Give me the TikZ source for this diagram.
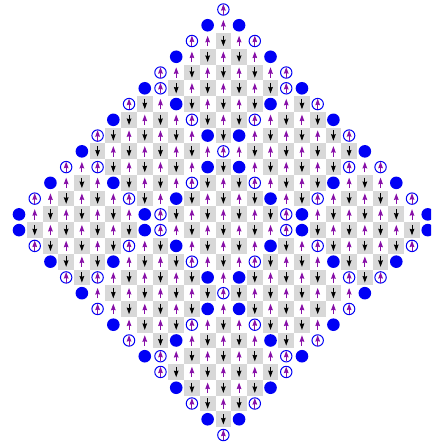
\documentclass[tikz,border=0pt]{standalone}
\usetikzlibrary{arrows.meta}
\definecolor{spinup}{RGB}{136,16,168}
\definecolor{cellgray}{RGB}{216,216,216}
\definecolor{holeblue}{RGB}{0,0,245}
\tikzset{
  x=1pt,y=-1pt,
  cellbox/.style={fill=cellgray,draw=none},
  uparrow/.style={draw=spinup,line width=1pt,-{Stealth[length=6.5pt,width=4.6pt,inset=0.6pt]}},
  downarrow/.style={draw=black,line width=1pt,-{Stealth[length=6.5pt,width=4.6pt,inset=0.6pt]}},
  holedot/.style={fill=holeblue,draw=none},
  holering/.style={draw=holeblue,line width=1pt,fill=none},
}
\begin{document}
\begin{tikzpicture}
\useasboundingbox (0,0) rectangle (431,443);
\clip (0,0) rectangle (431,443);
\foreach \r in {0,...,27}{
  \pgfmathtruncatemacro{\m}{\r<14 ? \r : 27-\r}
  \pgfmathtruncatemacro{\cmin}{13-\m}
  \pgfmathtruncatemacro{\cmax}{13+\m}
  \foreach \c in {\cmin,...,\cmax}{
    \pgfmathsetmacro{\X}{19+15.72*\c}
    \pgfmathsetmacro{\Y}{9.5+15.76*\r}
    \pgfmathtruncatemacro{\dc}{abs(\c-13)}
    \pgfmathtruncatemacro{\wa}{abs(\m-9)}
    \pgfmathtruncatemacro{\wb}{18-\m}
    \pgfmathtruncatemacro{\oddm}{mod(\m,2)}
    \pgfmathtruncatemacro{\kind}{\dc==\m ? (\oddm==1 ? 1 : 2) : (\dc==\wa ? (\oddm==1 ? 2 : 1) : (\dc==\wb ? (\oddm==1 ? 1 : 2) : 0))}
    \pgfmathtruncatemacro{\band}{(\dc>\wa && \dc<\wb) ? 1 : 0}
    \pgfmathtruncatemacro{\isdown}{mod(\r+\c+\band,2)}
    \ifnum\kind=1
      \fill[holedot] (\X,\Y) circle[radius=6.3pt];
    \else\ifnum\kind=2
      \draw[holering] (\X,\Y) circle[radius=5.7pt];
      \draw[uparrow] (\X,\Y+5.2) -- (\X,\Y-5.4);
    \else\ifnum\isdown=1
      \fill[cellbox] (\X-7.86,\Y-7.88) rectangle (\X+7.86,\Y+7.88);
      \draw[downarrow] (\X,\Y-5.2) -- (\X,\Y+5.2);
    \else
      \draw[uparrow] (\X,\Y+5.2) -- (\X,\Y-5.2);
    \fi\fi\fi
  }
}
\end{tikzpicture}
\end{document}
